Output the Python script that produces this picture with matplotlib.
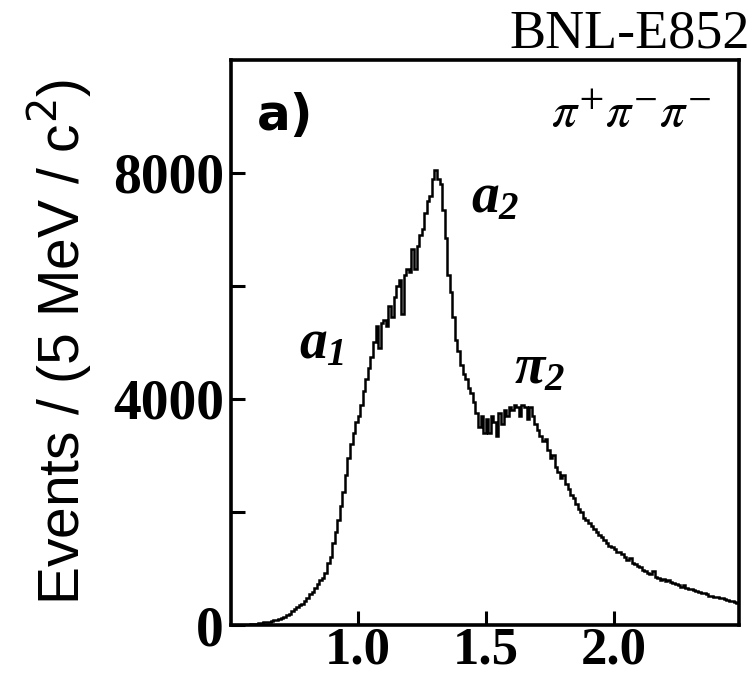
import numpy as np
import matplotlib
matplotlib.use("Agg")
import matplotlib.pyplot as plt
from matplotlib.ticker import FixedLocator
from matplotlib.font_manager import FontProperties

plt.rcParams["mathtext.fontset"] = "custom"
plt.rcParams["mathtext.rm"] = "Liberation Serif:italic:bold"
plt.rcParams["mathtext.it"] = "Liberation Serif:italic:bold"
plt.rcParams["mathtext.bf"] = "Liberation Serif:bold"

# 3-pion invariant mass spectrum, 10 MeV bins from 0.50 to 2.50 GeV/c^2
mass_lo = 0.50
bin_width = 0.01
counts = [
    # 0.50 - 0.59
    0, 0, 0, 0, 0, 0, 0, 0, 10, 20,
    # 0.60 - 0.69
    25, 35, 40, 45, 55, 60, 70, 85, 95, 110,
    # 0.70 - 0.79
    120, 150, 180, 200, 250, 280, 320, 360, 380, 420,
    # 0.80 - 0.89
    470, 540, 580, 650, 720, 790, 830, 920, 1100, 1200,
    # 0.90 - 0.99
    1450, 1650, 1850, 2100, 2350, 2650, 2950, 3200, 3400, 3600,
    # 1.00 - 1.09
    3700, 3900, 4150, 4350, 4550, 4750, 5000, 5300, 4900, 5350,
    # 1.10 - 1.19
    5400, 5300, 5650, 5450, 5800, 6000, 6100, 5500, 6200, 6300,
    # 1.20 - 1.29
    6250, 6650, 6300, 6700, 6900, 7000, 7300, 7500, 7600, 7900,
    # 1.30 - 1.39
    8050, 7900, 7800, 7350, 6850, 6200, 5900, 5450, 5050, 4850,
    # 1.40 - 1.49
    4600, 4450, 4350, 4200, 4100, 3950, 3750, 3500, 3700, 3400,
    # 1.50 - 1.59
    3650, 3400, 3700, 3600, 3350, 3750, 3550, 3800, 3700, 3850,
    # 1.60 - 1.69
    3800, 3900, 3850, 3700, 3900, 3850, 3650, 3850, 3700, 3550,
    # 1.70 - 1.79
    3450, 3350, 3250, 3300, 3100, 2950, 3000, 2800, 2700, 2600,
    # 1.80 - 1.89
    2650, 2500, 2400, 2300, 2250, 2150, 2050, 2000, 1900, 1850,
    # 1.90 - 1.99
    1800, 1750, 1700, 1650, 1600, 1550, 1500, 1450, 1400, 1380,
    # 2.00 - 2.09
    1350, 1300, 1300, 1250, 1200, 1150, 1180, 1100, 1080, 1050,
    # 2.10 - 2.19
    1020, 980, 950, 920, 900, 950, 850, 830, 800, 820,
    # 2.20 - 2.29
    780, 800, 760, 740, 720, 700, 680, 700, 660, 640,
    # 2.30 - 2.39
    640, 620, 600, 580, 560, 560, 540, 520, 520, 500,
    # 2.40 - 2.49
    500, 480, 470, 460, 440, 430, 420, 410, 390, 380,
]
edges = mass_lo + bin_width * np.arange(len(counts) + 1)

x_ticks = [1.0, 1.5, 2.0]
x_tick_labels = ["1.0", "1.5", "2.0"]
y_major = [0, 4000, 8000]
y_minor = [2000, 6000]

W, H = 753, 679
fig = plt.figure(figsize=(W / 100, H / 100), dpi=100)
ax = fig.add_axes([231 / W, 1 - 625 / H, (739 - 231) / W, (625 - 60) / H])

ax.stairs(counts, edges, color="black", lw=1.8)

ax.set_xlim(0.505, 2.49)
ax.set_ylim(0, 10000)

for s in ax.spines.values():
    s.set_linewidth(2.6)

ax.xaxis.set_major_locator(FixedLocator(x_ticks))
ax.set_xticklabels(x_tick_labels)
ax.yaxis.set_major_locator(FixedLocator(y_major))
ax.yaxis.set_minor_locator(FixedLocator(y_minor))

ax.tick_params(axis="both", which="both", direction="in", width=2.2, length=10,
               top=False, right=False)
ax.tick_params(axis="y", which="both", pad=5)
ax.tick_params(axis="x", which="both", pad=1)
for lab in ax.get_yticklabels():
    lab.set_fontproperties(FontProperties(family="Liberation Serif", weight="bold", size=40))
for lab in ax.get_xticklabels():
    lab.set_fontproperties(FontProperties(family="Liberation Serif", weight="bold", size=38))

# axis title
fig.text(60 / W, 1 - 342 / H, r"Events / (5 MeV / c$^{2}$)", rotation=90,
         ha="center", va="center", family="Liberation Sans", size=41,
         math_fontfamily="dejavusans")

# experiment name
fig.text(750 / W, 1 - 48 / H, "BNL-E852", ha="right", va="baseline",
         family="Liberation Serif", size=39)

# panel tag and final state
ax.text(0.605, 8760, "a)", ha="left", va="baseline",
        family="DejaVu Sans", weight="bold", size=36)
ax.text(2.38, 8810, r"$\pi^{+}\pi^{-}\pi^{-}$", ha="right", va="baseline",
        size=36, math_fontfamily="stix")

# resonance labels
ax.text(1.441, 7310, r"$a_{2}$", ha="left", va="baseline", size=40)
ax.text(0.77, 4725, r"$a_{1}$", ha="left", va="baseline", size=40)
ax.text(1.61, 4280, r"$\pi_{2}$", ha="left", va="baseline", size=40)

fig.savefig("out.png", dpi=100)
